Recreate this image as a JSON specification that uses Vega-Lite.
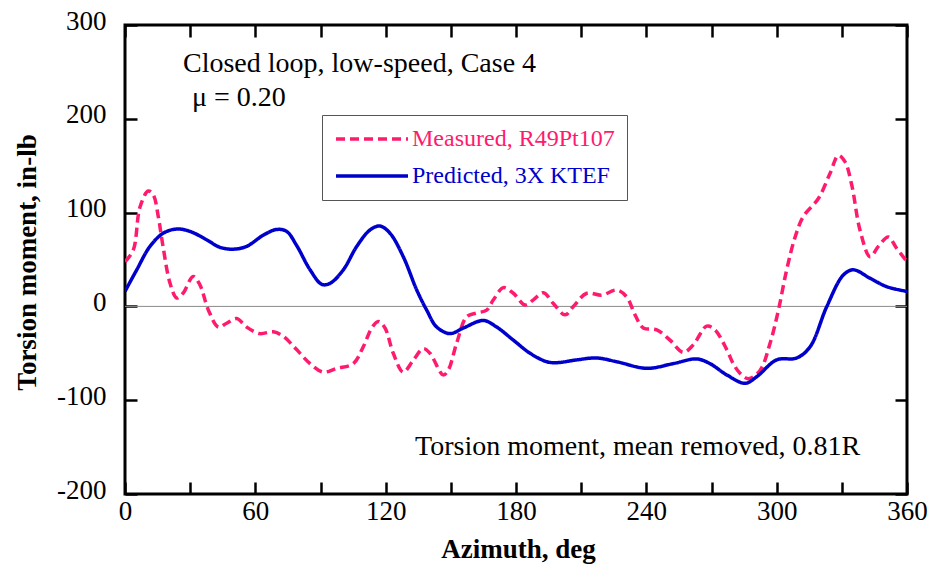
{
  "$schema": "https://vega.github.io/schema/vega-lite/v6.json",
  "width": 782,
  "height": 469,
  "autosize": {"type": "none"},
  "padding": {"left": 125, "top": 25, "right": 24, "bottom": 73},
  "background": "white",
  "config": {
    "view": {"stroke": "black", "strokeWidth": 3},
    "font": "Liberation Serif",
    "axis": {
      "labelFont": "Liberation Serif", "titleFont": "Liberation Serif",
      "labelColor": "black", "titleColor": "black", "domain": false, "grid": false,
      "ticks": true, "tickOpacity": 1,
      "tickColor": "black", "tickWidth": 2.5, "tickSize": 12, "offset": -12,
      "labelFontSize": 27, "titleFontSize": 27, "titleFontWeight": "bold", "zindex": 5
    }
  },
  "datasets": {
    "curves": [
      {"series": "Measured, R49Pt107", "az": 0, "m": 47.7},
      {"series": "Measured, R49Pt107", "az": 3.8, "m": 60},
      {"series": "Measured, R49Pt107", "az": 6.9, "m": 106},
      {"series": "Measured, R49Pt107", "az": 10.7, "m": 123},
      {"series": "Measured, R49Pt107", "az": 13, "m": 119},
      {"series": "Measured, R49Pt107", "az": 15.3, "m": 96},
      {"series": "Measured, R49Pt107", "az": 17.5, "m": 64},
      {"series": "Measured, R49Pt107", "az": 20.7, "m": 25},
      {"series": "Measured, R49Pt107", "az": 23.8, "m": 9},
      {"series": "Measured, R49Pt107", "az": 26.7, "m": 14},
      {"series": "Measured, R49Pt107", "az": 31.4, "m": 32},
      {"series": "Measured, R49Pt107", "az": 34.5, "m": 23},
      {"series": "Measured, R49Pt107", "az": 38.4, "m": -4},
      {"series": "Measured, R49Pt107", "az": 43, "m": -22},
      {"series": "Measured, R49Pt107", "az": 46.8, "m": -18},
      {"series": "Measured, R49Pt107", "az": 51.4, "m": -13},
      {"series": "Measured, R49Pt107", "az": 56, "m": -22},
      {"series": "Measured, R49Pt107", "az": 62, "m": -29},
      {"series": "Measured, R49Pt107", "az": 68.3, "m": -27},
      {"series": "Measured, R49Pt107", "az": 72.9, "m": -32},
      {"series": "Measured, R49Pt107", "az": 79, "m": -46},
      {"series": "Measured, R49Pt107", "az": 85.2, "m": -61},
      {"series": "Measured, R49Pt107", "az": 91.3, "m": -70},
      {"series": "Measured, R49Pt107", "az": 97.5, "m": -66},
      {"series": "Measured, R49Pt107", "az": 105.1, "m": -61},
      {"series": "Measured, R49Pt107", "az": 109.7, "m": -43},
      {"series": "Measured, R49Pt107", "az": 113.6, "m": -23},
      {"series": "Measured, R49Pt107", "az": 116.6, "m": -16},
      {"series": "Measured, R49Pt107", "az": 119.7, "m": -23},
      {"series": "Measured, R49Pt107", "az": 123.5, "m": -50},
      {"series": "Measured, R49Pt107", "az": 128.1, "m": -70},
      {"series": "Measured, R49Pt107", "az": 132.8, "m": -57},
      {"series": "Measured, R49Pt107", "az": 137.3, "m": -45},
      {"series": "Measured, R49Pt107", "az": 140.4, "m": -50},
      {"series": "Measured, R49Pt107", "az": 146.5, "m": -73},
      {"series": "Measured, R49Pt107", "az": 148.8, "m": -68},
      {"series": "Measured, R49Pt107", "az": 152.7, "m": -39},
      {"series": "Measured, R49Pt107", "az": 157.3, "m": -11},
      {"series": "Measured, R49Pt107", "az": 161.9, "m": -7},
      {"series": "Measured, R49Pt107", "az": 166.5, "m": -4},
      {"series": "Measured, R49Pt107", "az": 169.6, "m": 7},
      {"series": "Measured, R49Pt107", "az": 174.2, "m": 20},
      {"series": "Measured, R49Pt107", "az": 178.8, "m": 14},
      {"series": "Measured, R49Pt107", "az": 184.2, "m": 1.5},
      {"series": "Measured, R49Pt107", "az": 188, "m": 7},
      {"series": "Measured, R49Pt107", "az": 192.6, "m": 14.6},
      {"series": "Measured, R49Pt107", "az": 197.2, "m": 3},
      {"series": "Measured, R49Pt107", "az": 202.6, "m": -9},
      {"series": "Measured, R49Pt107", "az": 206.4, "m": 0},
      {"series": "Measured, R49Pt107", "az": 212.6, "m": 14},
      {"series": "Measured, R49Pt107", "az": 219.5, "m": 12},
      {"series": "Measured, R49Pt107", "az": 226.4, "m": 17.5},
      {"series": "Measured, R49Pt107", "az": 231, "m": 10},
      {"series": "Measured, R49Pt107", "az": 234.8, "m": -9},
      {"series": "Measured, R49Pt107", "az": 238.6, "m": -23},
      {"series": "Measured, R49Pt107", "az": 244.8, "m": -25},
      {"series": "Measured, R49Pt107", "az": 250.9, "m": -36},
      {"series": "Measured, R49Pt107", "az": 257, "m": -49},
      {"series": "Measured, R49Pt107", "az": 261.6, "m": -41},
      {"series": "Measured, R49Pt107", "az": 267.8, "m": -21},
      {"series": "Measured, R49Pt107", "az": 271.6, "m": -25},
      {"series": "Measured, R49Pt107", "az": 277, "m": -46},
      {"series": "Measured, R49Pt107", "az": 280, "m": -61},
      {"series": "Measured, R49Pt107", "az": 283, "m": -71},
      {"series": "Measured, R49Pt107", "az": 287, "m": -77},
      {"series": "Measured, R49Pt107", "az": 292.4, "m": -68},
      {"series": "Measured, R49Pt107", "az": 297, "m": -39},
      {"series": "Measured, R49Pt107", "az": 300.8, "m": -4},
      {"series": "Measured, R49Pt107", "az": 304.6, "m": 39},
      {"series": "Measured, R49Pt107", "az": 308.5, "m": 74},
      {"series": "Measured, R49Pt107", "az": 312.3, "m": 96},
      {"series": "Measured, R49Pt107", "az": 319.2, "m": 115},
      {"series": "Measured, R49Pt107", "az": 324.6, "m": 142},
      {"series": "Measured, R49Pt107", "az": 328.4, "m": 161},
      {"series": "Measured, R49Pt107", "az": 331.5, "m": 154},
      {"series": "Measured, R49Pt107", "az": 334.6, "m": 129},
      {"series": "Measured, R49Pt107", "az": 338.4, "m": 81},
      {"series": "Measured, R49Pt107", "az": 343, "m": 53},
      {"series": "Measured, R49Pt107", "az": 346.8, "m": 64},
      {"series": "Measured, R49Pt107", "az": 351.4, "m": 74},
      {"series": "Measured, R49Pt107", "az": 355.2, "m": 62},
      {"series": "Measured, R49Pt107", "az": 360, "m": 47.7},
      {"series": "Predicted, 3X KTEF", "az": 0, "m": 16},
      {"series": "Predicted, 3X KTEF", "az": 5.4, "m": 39},
      {"series": "Predicted, 3X KTEF", "az": 11.5, "m": 64},
      {"series": "Predicted, 3X KTEF", "az": 17.6, "m": 78},
      {"series": "Predicted, 3X KTEF", "az": 23.8, "m": 82.5},
      {"series": "Predicted, 3X KTEF", "az": 29.9, "m": 80},
      {"series": "Predicted, 3X KTEF", "az": 37.6, "m": 71},
      {"series": "Predicted, 3X KTEF", "az": 43.7, "m": 63},
      {"series": "Predicted, 3X KTEF", "az": 49.9, "m": 61},
      {"series": "Predicted, 3X KTEF", "az": 56, "m": 64},
      {"series": "Predicted, 3X KTEF", "az": 63.7, "m": 76},
      {"series": "Predicted, 3X KTEF", "az": 69.8, "m": 82},
      {"series": "Predicted, 3X KTEF", "az": 74.4, "m": 80},
      {"series": "Predicted, 3X KTEF", "az": 79, "m": 65},
      {"series": "Predicted, 3X KTEF", "az": 85.2, "m": 39},
      {"series": "Predicted, 3X KTEF", "az": 90.6, "m": 23.5},
      {"series": "Predicted, 3X KTEF", "az": 94.4, "m": 24.6},
      {"series": "Predicted, 3X KTEF", "az": 100.5, "m": 39},
      {"series": "Predicted, 3X KTEF", "az": 106.7, "m": 64},
      {"series": "Predicted, 3X KTEF", "az": 112.8, "m": 81.5},
      {"series": "Predicted, 3X KTEF", "az": 117.4, "m": 85.7},
      {"series": "Predicted, 3X KTEF", "az": 122, "m": 78},
      {"series": "Predicted, 3X KTEF", "az": 128.1, "m": 53},
      {"series": "Predicted, 3X KTEF", "az": 134.3, "m": 17.5},
      {"series": "Predicted, 3X KTEF", "az": 138.9, "m": -4},
      {"series": "Predicted, 3X KTEF", "az": 143.5, "m": -22},
      {"series": "Predicted, 3X KTEF", "az": 149.6, "m": -29},
      {"series": "Predicted, 3X KTEF", "az": 155.8, "m": -23},
      {"series": "Predicted, 3X KTEF", "az": 165, "m": -15},
      {"series": "Predicted, 3X KTEF", "az": 171.1, "m": -22},
      {"series": "Predicted, 3X KTEF", "az": 178.8, "m": -36},
      {"series": "Predicted, 3X KTEF", "az": 186.5, "m": -50},
      {"series": "Predicted, 3X KTEF", "az": 194.2, "m": -59},
      {"series": "Predicted, 3X KTEF", "az": 198.8, "m": -60},
      {"series": "Predicted, 3X KTEF", "az": 208, "m": -57},
      {"series": "Predicted, 3X KTEF", "az": 217.2, "m": -55},
      {"series": "Predicted, 3X KTEF", "az": 226.4, "m": -59},
      {"series": "Predicted, 3X KTEF", "az": 240.2, "m": -66},
      {"series": "Predicted, 3X KTEF", "az": 252.4, "m": -61},
      {"series": "Predicted, 3X KTEF", "az": 263.2, "m": -56},
      {"series": "Predicted, 3X KTEF", "az": 269.3, "m": -61},
      {"series": "Predicted, 3X KTEF", "az": 277, "m": -73},
      {"series": "Predicted, 3X KTEF", "az": 285.5, "m": -82},
      {"series": "Predicted, 3X KTEF", "az": 290.8, "m": -75},
      {"series": "Predicted, 3X KTEF", "az": 300, "m": -57},
      {"series": "Predicted, 3X KTEF", "az": 309.2, "m": -55},
      {"series": "Predicted, 3X KTEF", "az": 315.4, "m": -43},
      {"series": "Predicted, 3X KTEF", "az": 323.1, "m": 0},
      {"series": "Predicted, 3X KTEF", "az": 330.7, "m": 33.5},
      {"series": "Predicted, 3X KTEF", "az": 335.3, "m": 39},
      {"series": "Predicted, 3X KTEF", "az": 343, "m": 30},
      {"series": "Predicted, 3X KTEF", "az": 350.7, "m": 21},
      {"series": "Predicted, 3X KTEF", "az": 360, "m": 16}
    ]
  },
  "resolve": {"axis": {"x": "independent", "y": "independent"}},
  "layer": [
    {
      "data": {"values": [{"zero": 0}]},
      "mark": {"type": "rule", "color": "#8a8a8a", "strokeWidth": 1},
      "encoding": {
        "y": {"field": "zero", "type": "quantitative", "scale": {"domain": [-200, 300], "nice": false, "zero": false},
              "axis": {"orient": "right", "labels": false, "ticks": true, "title": null, "values": [-200, -100, 0, 100, 200, 300]}}
      }
    },
    {
      "data": {"name": "curves"},
      "mark": {"type": "line", "strokeWidth": 3.5, "interpolate": "catmull-rom", "clip": true},
      "encoding": {
        "x": {"field": "az", "type": "quantitative", "scale": {"domain": [0, 360], "nice": false, "zero": false},
              "axis": {"orient": "bottom", "ticks": true, "values": [0, 30, 60, 90, 120, 150, 180, 210, 240, 270, 300, 330, 360],
                       "labelExpr": "datum.value % 60 == 0 ? datum.label : ''", "labelPadding": 4,
                       "labelFlush": false, "labelOverlap": false,
                       "title": "Azimuth, deg", "titleX": 393, "titleY": 75, "titleBaseline": "alphabetic", "titleAnchor": null}},
        "y": {"field": "m", "type": "quantitative", "scale": {"domain": [-200, 300], "nice": false, "zero": false},
              "axis": {"orient": "left", "ticks": true, "values": [-200, -100, 0, 100, 200, 300], "labelExpr": "toString(datum.value)",
                       "labelPadding": 19, "labelOffset": -4, "labelFlush": false, "labelOverlap": false,
                       "title": "Torsion moment, in-lb", "titleX": -110, "titleY": 237, "titleBaseline": "middle", "titleAngle": -90}},
        "color": {"field": "series", "type": "nominal",
                  "scale": {"domain": ["Measured, R49Pt107", "Predicted, 3X KTEF"], "range": ["#ff1a6e", "#0000cc"]},
                  "legend": {"orient": "none", "legendX": 197, "legendY": 90, "title": null, "padding": 12,
                             "strokeColor": "#555", "fillColor": "white", "symbolSize": 400,
                             "symbolStrokeWidth": 3.5, "labelFont": "Liberation Serif", "labelFontSize": 24,
                             "labelOffset": 54, "rowPadding": 13, "labelLimit": 400,
                             "encode": {"symbols": {"update": {"shape": {"value": "M-1,0H6.2"}}},
                                        "labels": {"update": {"fill": {"signal": "datum.label === 'Measured, R49Pt107' ? '#ff1a6e' : '#0000cc'"}}}}}},
        "strokeDash": {"field": "series", "type": "nominal",
                       "scale": {"domain": ["Measured, R49Pt107", "Predicted, 3X KTEF"], "range": [[9, 5], [1, 0]]},
                       "legend": {"orient": "none", "legendX": 197, "legendY": 90, "title": null, "padding": 12,
                             "strokeColor": "#555", "fillColor": "white", "symbolSize": 400,
                             "symbolStrokeWidth": 3.5, "labelFont": "Liberation Serif", "labelFontSize": 24,
                             "labelOffset": 54, "rowPadding": 13, "labelLimit": 400,
                             "encode": {"symbols": {"update": {"shape": {"value": "M-1,0H6.2"}}},
                                        "labels": {"update": {"fill": {"signal": "datum.label === 'Measured, R49Pt107' ? '#ff1a6e' : '#0000cc'"}}}}}}
      }
    },
    {
      "data": {"values": [{}]},
      "mark": {"type": "text", "align": "left", "baseline": "alphabetic", "fontSize": 28, "font": "Liberation Serif", "color": "black", "text": "Closed loop, low-speed, Case 4"},
      "encoding": {
        "x": {"datum": 26.7, "type": "quantitative", "scale": {"domain": [0, 360], "nice": false, "zero": false},
              "axis": {"orient": "top", "labels": false, "ticks": true, "title": null, "values": [0, 30, 60, 90, 120, 150, 180, 210, 240, 270, 300, 330, 360]}},
        "y": {"datum": 250, "type": "quantitative", "scale": {"domain": [-200, 300], "nice": false, "zero": false}, "axis": null}
      }
    },
    {
      "data": {"values": [{}]},
      "mark": {"type": "text", "align": "left", "baseline": "alphabetic", "fontSize": 28, "font": "Liberation Serif", "color": "black", "text": "μ = 0.20"},
      "encoding": {
        "x": {"datum": 30.8, "type": "quantitative", "axis": null},
        "y": {"datum": 213.5, "type": "quantitative", "axis": null}
      }
    },
    {
      "data": {"values": [{}]},
      "mark": {"type": "text", "align": "center", "baseline": "alphabetic", "fontSize": 28, "font": "Liberation Serif", "color": "black", "text": "Torsion moment, mean removed, 0.81R"},
      "encoding": {
        "x": {"datum": 236, "type": "quantitative", "axis": null},
        "y": {"datum": -158.4, "type": "quantitative", "axis": null}
      }
    }
  ]
}
